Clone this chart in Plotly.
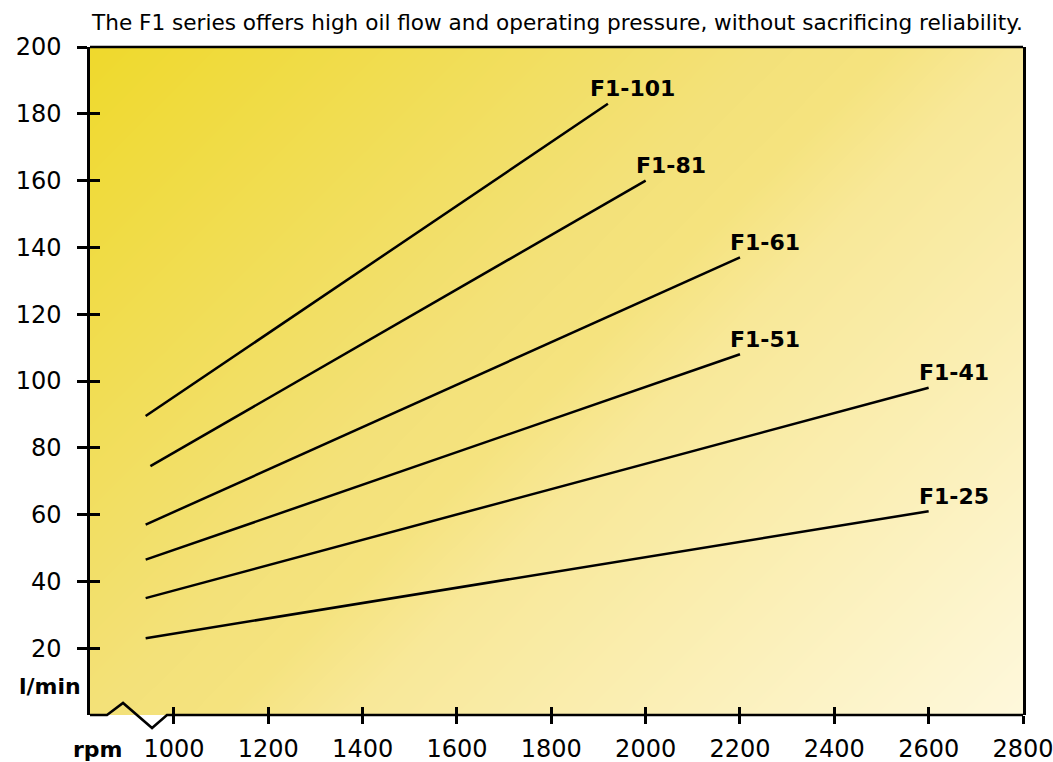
import numpy as np
import plotly.graph_objects as go

# ---- data ----
models = ["F1-101", "F1-81", "F1-61", "F1-51", "F1-41", "F1-25"]
rpm_start = [940, 950, 940, 940, 940, 940]
rpm_end = [1920, 2000, 2200, 2200, 2600, 2600]
flow_start = [89.5, 74.5, 57, 46.5, 35, 23]
flow_end = [183, 160, 137, 108, 98, 61]
x_ticks = [1000, 1200, 1400, 1600, 1800, 2000, 2200, 2400, 2600, 2800]
y_ticks = [20, 40, 60, 80, 100, 120, 140, 160, 180, 200]
title_text = "The F1 series offers high oil flow and operating pressure, without sacrificing reliability."

X_RANGE = [822, 2800]
Y_RANGE = [0, 200]
FONT = "DejaVu Sans, Liberation Sans, Arial, sans-serif"

fig = go.Figure()

# background diagonal gradient (heatmap)
gx = np.linspace(X_RANGE[0] - 60, X_RANGE[1] + 60, 50)
gy = np.linspace(Y_RANGE[0] - 10, Y_RANGE[1] + 10, 50)
PW, PH = 933.0, 668.0
XX, YY = np.meshgrid(gx, gy)
T = ((XX - X_RANGE[0]) / (X_RANGE[1] - X_RANGE[0]) * PW + (Y_RANGE[1] - YY) / (Y_RANGE[1] - Y_RANGE[0]) * PH) / (PW + PH)
T = np.clip(T, 0, 1)
fig.add_trace(go.Heatmap(
    x=gx, y=gy, z=T, zmin=0, zmax=1, zsmooth="best", showscale=False, hoverinfo="skip",
    colorscale=[[0, "#EFD92C"], [0.42, "#F3E179"], [0.5, "#F5E37F"], [0.58, "#F8E898"], [1, "#FEF8DC"]],
))

for m, xs, xe, ys, ye in zip(models, rpm_start, rpm_end, flow_start, flow_end):
    fig.add_trace(go.Scatter(x=[xs, xe], y=[ys, ye], mode="lines",
                             line=dict(color="black", width=2.5), hoverinfo="skip", showlegend=False))
    fig.add_annotation(x=xe, y=ye, text="<b>%s</b>" % m, showarrow=False, xanchor="center", yanchor="middle",
                       xshift=25, yshift=15, font=dict(family=FONT, size=22, color="black"))

# invisible trace on overlay axes so they render
fig.add_trace(go.Scatter(x=[1000], y=[100], xaxis="x2", yaxis="y2", mode="markers",
                         marker=dict(opacity=0), hoverinfo="skip", showlegend=False))

tickfont = dict(family=FONT, size=24, color="black")
fig.update_layout(
    width=1053, height=762,
    margin=dict(l=90, r=30, t=47, b=47, autoexpand=False),
    paper_bgcolor="white", plot_bgcolor="rgba(0,0,0,0)",
    showlegend=False,
    font=dict(family=FONT, color="black"),
    xaxis=dict(range=X_RANGE, tickmode="array", tickvals=x_ticks, ticktext=[str(v) for v in x_ticks],
               ticks="outside", ticklen=8, tickwidth=2.5, tickcolor="black", showline=False, automargin=False,
               showgrid=False, zeroline=False, tickfont=tickfont, ticklabelstandoff=4, fixedrange=True,
               ticklabeloverflow="allow"),
    yaxis=dict(range=Y_RANGE, tickmode="array", tickvals=y_ticks, ticktext=[str(v) for v in y_ticks],
               ticks="outside", ticklen=10, tickwidth=2.5, tickcolor="black", showline=True, automargin=False,
               linecolor="black", linewidth=2.5, mirror=True,
               showgrid=False, zeroline=False, tickfont=tickfont, ticklabelstandoff=11, fixedrange=True,
               ticklabeloverflow="allow"),
    xaxis2=dict(range=X_RANGE, overlaying="x", anchor="y", side="bottom", tickmode="array", tickvals=x_ticks,
                ticks="inside", ticklen=8, tickwidth=2.5, tickcolor="black", showticklabels=False, automargin=False,
                showline=False, showgrid=False, zeroline=False, fixedrange=True),
    yaxis2=dict(range=Y_RANGE, overlaying="y", anchor="x", side="left", tickmode="array", tickvals=y_ticks[:-1],
                ticks="inside", ticklen=10, tickwidth=2.5, tickcolor="black", showticklabels=False, automargin=False,
                showline=False, showgrid=False, zeroline=False, fixedrange=True),
)

# top border and bottom axis line with break
fig.add_shape(type="line", xref="paper", yref="paper", x0=0, x1=1, y0=1, y1=1,
              line=dict(color="black", width=2.5), layer="above")
fig.add_shape(type="path", xref="paper", yref="paper",
              path="M 0,0 L 0.0182,0 L 0.0354,0.018 L 0.0665,-0.0195 L 0.0825,0 L 1,0",
              line=dict(color="black", width=2.5), layer="above")

fig.add_annotation(xref="paper", yref="paper", x=0.5, y=1, yshift=25, text=title_text, showarrow=False,
                   xanchor="center", yanchor="middle", font=dict(family=FONT, size=21.6, color="black"))
fig.add_annotation(xref="paper", yref="paper", x=0, y=0, xshift=-40, yshift=29, text="<b>l/min</b>",
                   showarrow=False, xanchor="center", yanchor="middle", font=dict(family=FONT, size=22, color="black"))
fig.add_annotation(xref="paper", yref="paper", x=0, y=0, xshift=8, yshift=-34, text="<b>rpm</b>",
                   showarrow=False, xanchor="center", yanchor="middle", font=dict(family=FONT, size=22, color="black"))

fig.write_html("out.html", config={"displayModeBar": False},
               post_script="document.body.style.margin='0';document.body.style.overflow='hidden';")
